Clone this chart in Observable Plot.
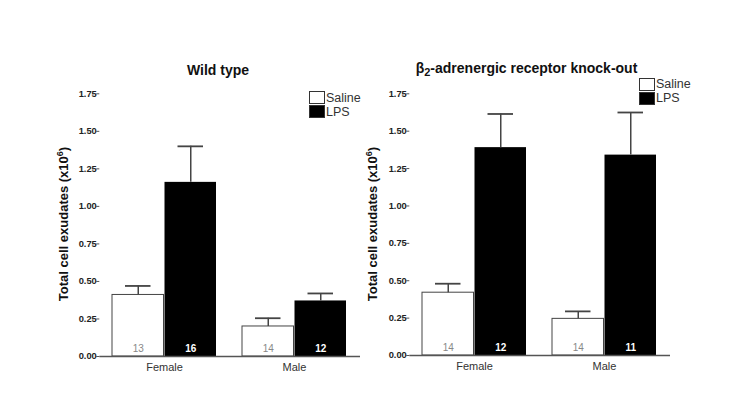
<!DOCTYPE html>
<html>
<head>
<meta charset="utf-8">
<script src="https://cdn.jsdelivr.net/npm/d3@7"></script>
<script src="https://cdn.jsdelivr.net/npm/@observablehq/plot@0.6"></script>
<style>
  html, body { margin: 0; padding: 0; background: white; }
  #wrap { position: relative; width: 750px; height: 402px; overflow: hidden; font-family: "Liberation Sans", Arial, sans-serif; }
  .abs { position: absolute; }
  .title { font-weight: bold; font-size: 14px; color: #111; white-space: nowrap; transform: translate(-50%, -50%); }
  .title sub { font-size: 11px; vertical-align: -3px; line-height: 0; }
  .ylab { font-weight: bold; font-size: 13px; color: #111; white-space: nowrap; transform: translate(-50%, -50%) rotate(-90deg); }
  .ylab sup { font-size: 9px; }
  .leg { font-size: 12.5px; color: #333; white-space: nowrap; display: flex; flex-direction: column; gap: 1px; }
  .leg .item { display: flex; align-items: center; height: 13px; }
  .leg .sw { width: 14px; height: 11px; border: 1px solid #333; margin-right: 1px; box-sizing: content-box; }
</style>
</head>
<body>
<div id="wrap"></div>
<script>
// ---- data ----
const sexes = ["Female", "Male"];
const treatments = ["Saline", "LPS"];
// order: Female-Saline, Female-LPS, Male-Saline, Male-LPS
const wtMeans = [0.41, 1.16, 0.20, 0.37];
const wtSem   = [0.06, 0.24, 0.055, 0.05];
const wtN     = [13, 16, 14, 12];
const koMeans = [0.42, 1.39, 0.245, 1.34];
const koSem   = [0.06, 0.225, 0.05, 0.285];
const koN     = [14, 12, 14, 11];
const yTicks  = [0, 0.25, 0.5, 0.75, 1.0, 1.25, 1.5, 1.75];
const titles  = ["Wild type", "β<sub>2</sub>-adrenergic receptor knock-out"];

function rows(means, sem, n) {
  const out = [];
  sexes.forEach((s, i) => treatments.forEach((t, j) => {
    const k = i * 2 + j;
    out.push({sex: s, treatment: t, mean: means[k], top: means[k] + sem[k], n: n[k]});
  }));
  return out;
}

const HALF = 52.5, Q = 26.25;
const font = '"Liberation Sans", Arial, sans-serif';

function panel(data, opts) {
  const sal = data.filter(d => d.treatment === "Saline");
  const lps = data.filter(d => d.treatment === "LPS");
  return Plot.plot({
    width: opts.width, height: 402,
    marginLeft: opts.ml, marginRight: opts.mr, marginTop: 93.3, marginBottom: opts.mb,
    style: {fontFamily: font, background: "transparent", overflow: "visible"},
    x: {domain: sexes, paddingInner: 0.197, paddingOuter: 0.096, label: null},
    y: {domain: [0, 1.75], label: null},
    marks: [
      Plot.barY(sal, {x: "sex", y: "mean", fill: "white", stroke: "#444", strokeWidth: 1, insetRight: HALF}),
      Plot.barY(lps, {x: "sex", y: "mean", fill: "black", insetLeft: HALF}),
      Plot.ruleX(sal, {x: "sex", y1: "mean", y2: "top", dx: -Q, stroke: "#444", strokeWidth: 1.5}),
      Plot.ruleX(lps, {x: "sex", y1: "mean", y2: "top", dx: Q, stroke: "#444", strokeWidth: 1.5}),
      Plot.tickY(sal, {x: "sex", y: "top", insetLeft: 13, insetRight: HALF + 13, stroke: "#444", strokeWidth: 1.8}),
      Plot.tickY(lps, {x: "sex", y: "top", insetLeft: HALF + 13, insetRight: 13, stroke: "#444", strokeWidth: 1.8}),
      Plot.text(sal, {x: "sex", y: 0, dx: -Q, dy: -8, text: "n", fill: "#888", fontSize: 10}),
      Plot.text(lps, {x: "sex", y: 0, dx: Q, dy: -8, text: "n", fill: "white", fontSize: 10, fontWeight: "bold"}),
      Plot.ruleY([0], {stroke: "#555", strokeWidth: 1.5}),
      Plot.axisY({ticks: yTicks, tickFormat: d3.format(".2f"), tickSize: 3, tickPadding: 0, fontSize: 9.3, fontWeight: "bold", fill: "#222", stroke: "#555", line: true, label: null}),
      Plot.axisX({tickSize: 0, tickPadding: 7, fontSize: 11, fill: "#333", label: null})
    ]
  });
}

const wrap = document.getElementById("wrap");

const left = panel(rows(wtMeans, wtSem, wtN), {width: 375, ml: 99.3, mr: 15, mb: 46});
left.classList.add("abs"); left.style.left = "0px"; left.style.top = "0px";
wrap.appendChild(left);

const right = panel(rows(koMeans, koSem, koN), {width: 420, ml: 79.3, mr: 80, mb: 47});
right.classList.add("abs"); right.style.left = "330px"; right.style.top = "0px";
wrap.appendChild(right);

function addDiv(cls, html, x, y) {
  const d = document.createElement("div");
  d.className = "abs " + cls;
  d.innerHTML = html;
  d.style.left = x + "px"; d.style.top = y + "px";
  wrap.appendChild(d);
  return d;
}
addDiv("title", titles[0], 218, 70);
addDiv("title", titles[1], 526.5, 68);
const ylab = "Total cell exudates (x10<sup>6</sup>)";
addDiv("ylab", ylab, 63, 224);
addDiv("ylab", ylab, 372, 224);

function legend(x, y) {
  const colors = {Saline: "white", LPS: "black"};
  const html = treatments.map(t => `<div class="item"><div class="sw" style="background:${colors[t]}"></div>${t}</div>`).join("");
  addDiv("leg", html, x, y);
}
legend(309, 91);
legend(639, 77.5);
</script>
</body>
</html>
